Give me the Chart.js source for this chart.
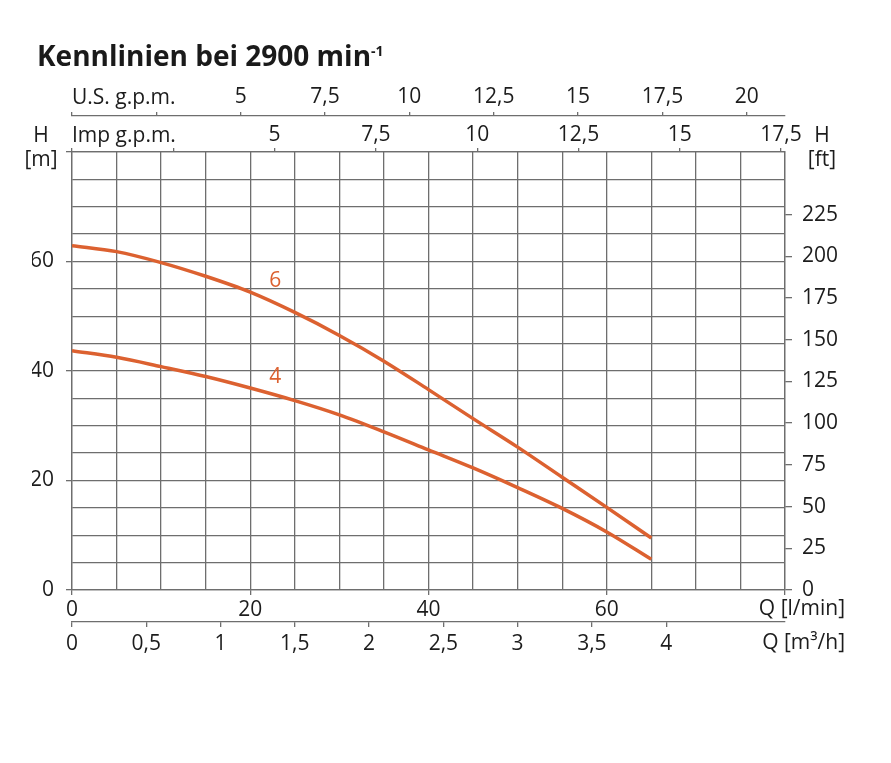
<!DOCTYPE html>
<html><head><meta charset="utf-8">
<script src="https://cdn.jsdelivr.net/npm/chart.js@4.4.1/dist/chart.umd.min.js"></script>
<style>
html,body{margin:0;padding:0;background:#fff;}
#wrap{position:relative;width:891px;height:763px;overflow:hidden;}
#c{position:absolute;left:0;top:0;}
#title{position:absolute;left:37px;top:40px;font:bold 28px "Open Sans",sans-serif;color:#1a1a1a;white-space:nowrap;line-height:30px;}
#title sup{font-size:14px;line-height:0;position:relative;top:-10px;vertical-align:baseline;}
</style></head><body>
<div id="wrap"><canvas id="c" width="891" height="763"></canvas>
<div id="title">Kennlinien bei 2900 min<sup>-1</sup></div></div>
<script>
// ---- data ----
const flowLmin = [0, 5, 10, 15, 20, 25, 30, 35, 40, 45, 50, 55, 60, 65];
const head6 = [62.9, 61.8, 59.8, 57.3, 54.4, 50.7, 46.5, 41.8, 36.6, 31.3, 26.1, 20.6, 15.1, 9.5];
const head4 = [43.7, 42.5, 40.8, 39.0, 36.9, 34.6, 32.0, 28.9, 25.6, 22.3, 18.7, 14.9, 10.6, 5.6];
const curveNames = ['6', '4'];
// tick labels shown on each axis
const headLabels = [0, 20, 40, 60];
const ftLabels = [0, 25, 50, 75, 100, 125, 150, 175, 200, 225];
const lminLabels = [0, 20, 40, 60];
const m3hLabels = [0, 0.5, 1, 1.5, 2, 2.5, 3, 3.5, 4];
const usGpmLabels = [5, 7.5, 10, 12.5, 15, 17.5, 20];
const impGpmLabels = [5, 7.5, 10, 12.5, 15, 17.5];
// tick marks drawn on each axis
const headTickMarks = [0, 20, 40, 60, 80];
const lminTickMarks = [0, 20, 40, 60, 80];
const ftTickMarks = ftLabels;
const m3hTickMarks = m3hLabels;
const usGpmTickMarks = [0, 2.5, 5, 7.5, 10, 12.5, 15, 17.5, 20];
const impGpmTickMarks = [0, 2.5, 5, 7.5, 10, 12.5, 15, 17.5];
// unit conversions
const L_PER_USGAL = 3.78541, L_PER_IMPGAL = 4.54609, FT_PER_M = 3.28084;

// ---- styles ----
const GRID = '#6e6e6e';
const TXT = '#1c1c1c';
const ORANGE = '#dc6130';
const FAM = '"Open Sans", sans-serif';
const FSIZE = 21;
const FONT = {family: FAM, size: FSIZE};

function has(arr, v){ return arr.some(a => Math.abs(a - v) < 1e-6); }
function fmt(v){ return String(Math.round(v * 100) / 100).replace('.', ','); }
function labelCb(arr){ return v => has(arr, v) ? fmt(v) : ''; }
function tickCol(arr){ return c => (c.tick && has(arr, c.tick.value)) ? GRID : 'rgba(0,0,0,0)'; }

function axis(pos, min, max, step, labels, marks, opts){
  return Object.assign({
    type: 'linear', position: pos, min: min, max: max,
    ticks: {stepSize: step, autoSkip: false, maxRotation: 0, minRotation: 0, includeBounds: false,
            color: TXT, font: FONT, padding: opts.pad, callback: labelCb(labels)},
    grid: {drawOnChartArea: !!opts.onArea, color: GRID, lineWidth: 1.3,
           tickLength: opts.tl, tickWidth: 1.3, tickColor: tickCol(marks)},
    border: {display: true, color: GRID, width: 1.3},
    afterFit: s => { if (opts.w) s.width = opts.w; if (opts.h) s.height = opts.h; }
  }, opts.extra || {});
}

const textPlugin = {
  id: 'axisTexts',
  afterDraw(chart){
    const ctx = chart.ctx, a = chart.chartArea, S = chart.scales;
    ctx.save();
    ctx.fillStyle = TXT;
    ctx.font = FSIZE + 'px ' + FAM;
    ctx.textBaseline = 'middle';
    ctx.textAlign = 'left';
    ctx.fillText('U.S. g.p.m.', a.left, S.us.bottom - 18);
    ctx.fillText('Imp g.p.m.', a.left, S.imp.bottom - 16);
    ctx.textAlign = 'center';
    ctx.fillText('H', a.left - 31, S.imp.bottom - 16);
    ctx.fillText('[m]', a.left - 31, a.top + 8);
    ctx.fillText('H', a.right + 37, S.imp.bottom - 16);
    ctx.fillText('[ft]', a.right + 37, a.top + 8);
    ctx.textAlign = 'right';
    ctx.fillText('Q [l/min]', a.right + 60, S.x.top + 19);
    ctx.fillText('Q [m\u00B3/h]', a.right + 60, S.m3h.top + 21);
    // curve labels
    ctx.fillStyle = ORANGE;
    ctx.textAlign = 'center';
    ctx.fillText(curveNames[0], S.x.getPixelForValue(22.8), S.y.getPixelForValue(56.5));
    ctx.fillText(curveNames[1], S.x.getPixelForValue(22.8), S.y.getPixelForValue(38.9));
    ctx.restore();
  }
};

function pts(h){ return flowLmin.map((q, i) => ({x: q, y: h[i]})); }

new Chart(document.getElementById('c'), {
  type: 'line',
  data: {
    datasets: [
      {label: curveNames[0], data: pts(head6), borderColor: ORANGE, borderWidth: 3.5, pointRadius: 0,
       cubicInterpolationMode: 'monotone', fill: false, xAxisID: 'x', yAxisID: 'y'},
      {label: curveNames[1], data: pts(head4), borderColor: ORANGE, borderWidth: 3.5, pointRadius: 0,
       cubicInterpolationMode: 'monotone', fill: false, xAxisID: 'x', yAxisID: 'y'}
    ]
  },
  options: {
    responsive: false, animation: false, devicePixelRatio: 1,
    layout: {padding: {left: 32, right: 46, top: 80, bottom: 101}},
    plugins: {legend: {display: false}, tooltip: {enabled: false}, title: {display: false}},
    scales: {
      x: axis('bottom', 0, 80, 5, lminLabels, lminTickMarks, {pad: 2, tl: 5, h: 32, onArea: true}),
      m3h: axis('bottom', 0, 4.8, 0.5, m3hLabels, m3hTickMarks, {pad: 4, tl: 5, h: 40, extra: {weight: 1}}),
      y: axis('left', 0, 80, 5, headLabels, headTickMarks, {pad: 12, tl: 6, w: 40, onArea: true}),
      ft: axis('right', 0, 80 * FT_PER_M, 25, ftLabels, ftTickMarks, {pad: 10, tl: 7, w: 60}),
      imp: axis('top', 0, 80 / L_PER_IMPGAL, 2.5, impGpmLabels, impGpmTickMarks, {pad: 0, tl: 4, h: 36, extra: {weight: 0}}),
      us: axis('top', 0, 80 / L_PER_USGAL, 2.5, usGpmLabels, usGpmTickMarks, {pad: 2, tl: 4, h: 36, extra: {weight: 1}})
    }
  },
  plugins: [textPlugin]
});
</script>
</body></html>
